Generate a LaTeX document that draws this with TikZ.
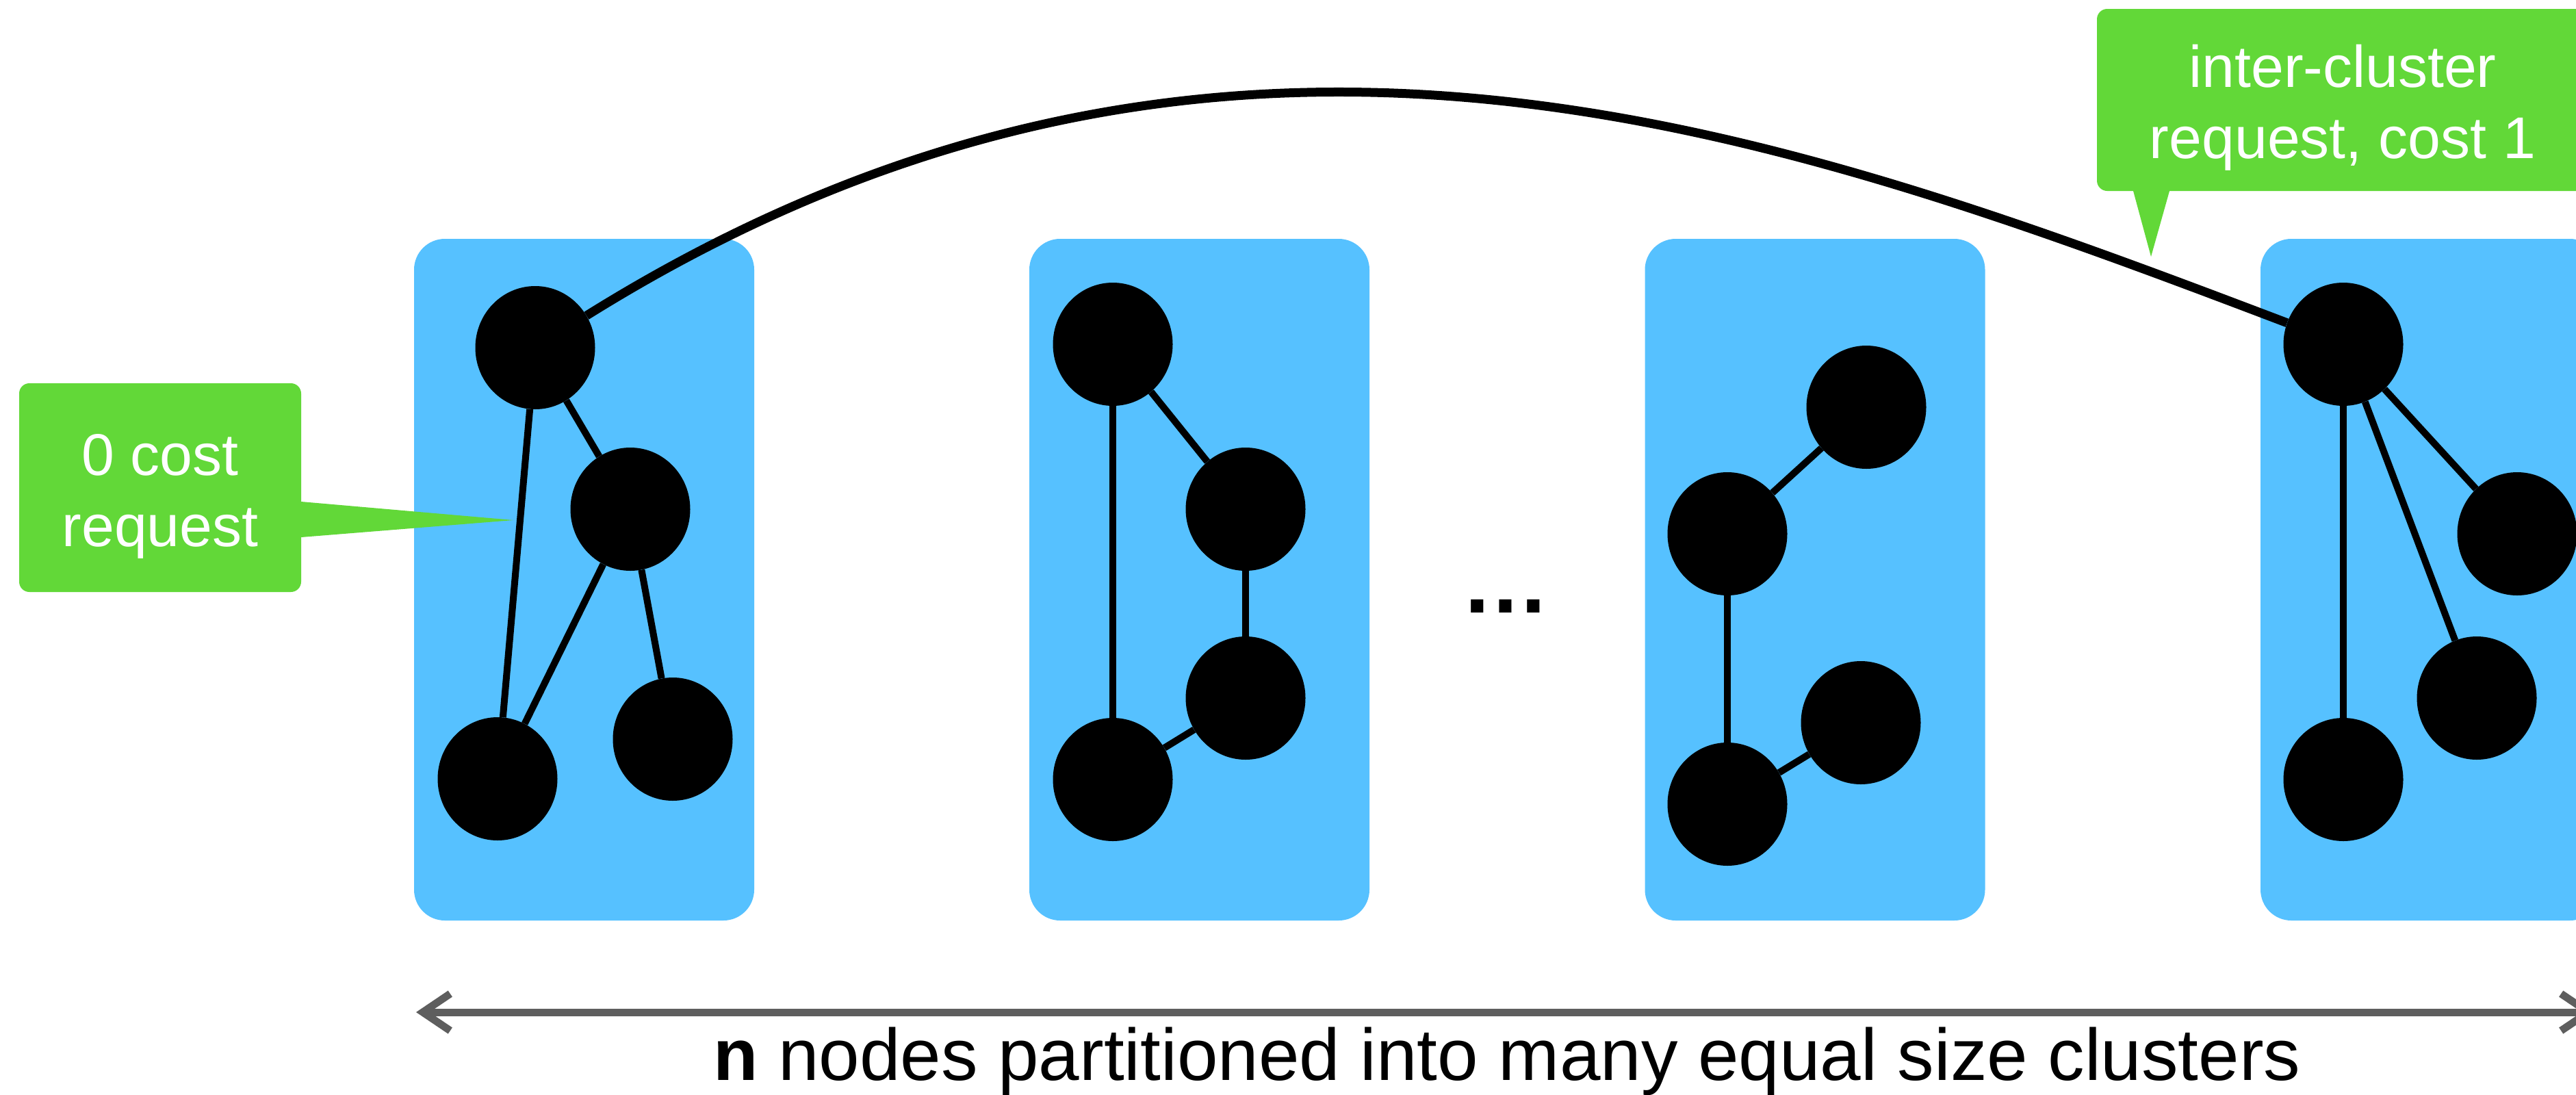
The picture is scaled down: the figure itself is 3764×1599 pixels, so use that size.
\documentclass[tikz,border=0pt]{standalone}
\usepackage{fontspec}
\setmainfont{Liberation Sans}
\usetikzlibrary{arrows.meta,shapes.geometric}
\definecolor{clusterblue}{RGB}{86,193,255}
\definecolor{callgreen}{RGB}{98,216,56}
\definecolor{arrowgray}{RGB}{94,94,94}
\begin{document}
\begin{tikzpicture}[x=1pt,y=-1pt,
  vertex/.style={ellipse,fill=black,inner sep=0pt,minimum width=175pt,minimum height=180pt},
  link/.style={line width=10pt,black},
  longlink/.style={line width=13pt,black},
  cluster/.style={rectangle,fill=clusterblue,rounded corners=45pt,inner sep=0pt,minimum width=497pt,minimum height=996pt},
  callout/.style={fill=callgreen},
  calltext/.style={text=white,align=center,inner sep=0pt,font=\fontsize{86}{104}\selectfont},
  span/.style={line width=11pt,arrowgray,{Straight Barb[length=40pt,width=54pt]}-{Straight Barb[length=40pt,width=54pt]}}
]
\useasboundingbox (0,0) rectangle (3764,1599);
\clip (0,0) rectangle (3764,1599);
\fill[white] (0,0) rectangle (3764,1599);

% clusters
\node[cluster] (k1) at (853.5,847) {};
\node[cluster] (k2) at (1752.5,847) {};
\node[cluster] (k3) at (2652,847) {};
\node[cluster] (k4) at (3551.5,847) {};

% vertices
\node[vertex] (a1) at (782,508) {};
\node[vertex] (b1) at (921,744) {};
\node[vertex] (c1) at (727,1138) {};
\node[vertex] (d1) at (983,1080) {};

\node[vertex] (a2) at (1626,503) {};
\node[vertex] (b2) at (1820,744) {};
\node[vertex] (c2) at (1820,1020) {};
\node[vertex] (d2) at (1626,1139) {};

\node[vertex] (a3) at (2727,595) {};
\node[vertex] (b3) at (2524,780) {};
\node[vertex] (c3) at (2719,1056) {};
\node[vertex] (d3) at (2524,1175) {};

\node[vertex] (a4) at (3424,503) {};
\node[vertex] (b4) at (3678,780) {};
\node[vertex] (c4) at (3619,1020) {};
\node[vertex] (d4) at (3424,1139) {};

% edges
\draw[link] (a1) -- (b1);
\draw[link] (a1) -- (c1);
\draw[link] (b1) -- (c1);
\draw[link] (b1) -- (d1);
\draw[link] (a2) -- (b2);
\draw[link] (a2) -- (d2);
\draw[link] (b2) -- (c2);
\draw[link] (c2) -- (d2);
\draw[link] (a3) -- (b3);
\draw[link] (b3) -- (d3);
\draw[link] (d3) -- (c3);
\draw[link] (a4) -- (d4);
\draw[link] (a4) -- (c4);
\draw[link] (a4) -- (b4);

% inter-cluster request
\draw[longlink] (a1) .. controls (1780,-115) and (2600,190) .. (a4);

% dots
\node[anchor=base,inner sep=0pt,font=\fontsize{129}{129}\selectfont\bfseries] (dots) at (2200,895) {…};

% callout 1
\fill[callout, rounded corners=15pt] (28,560) rectangle (440,865);
\fill[callout] (430,733) -- (440,733) -- (750,760) -- (440,785) -- (430,785) -- cycle;
\node[calltext] (t1) at (234,725) {0 cost\\request};

% callout 2
\fill[callout, rounded corners=15pt] (3064,13) rectangle (3782,279);
\fill[callout] (3117,270) -- (3117,279) -- (3143,375) -- (3170,279) -- (3170,270) -- cycle;
\node[calltext] (t2) at (3423,157) {inter-cluster\\request, cost 1};

% span arrow
\coordinate (sl) at (608,1479);
\coordinate (sr) at (3792,1479);
\draw[span] (sl) -- (sr);
\node[anchor=base,inner sep=0pt,font=\fontsize{107}{107}\selectfont] (cap) at (2202,1578) {\textbf{n} nodes partitioned into many equal size clusters};
\end{tikzpicture}
\end{document}
